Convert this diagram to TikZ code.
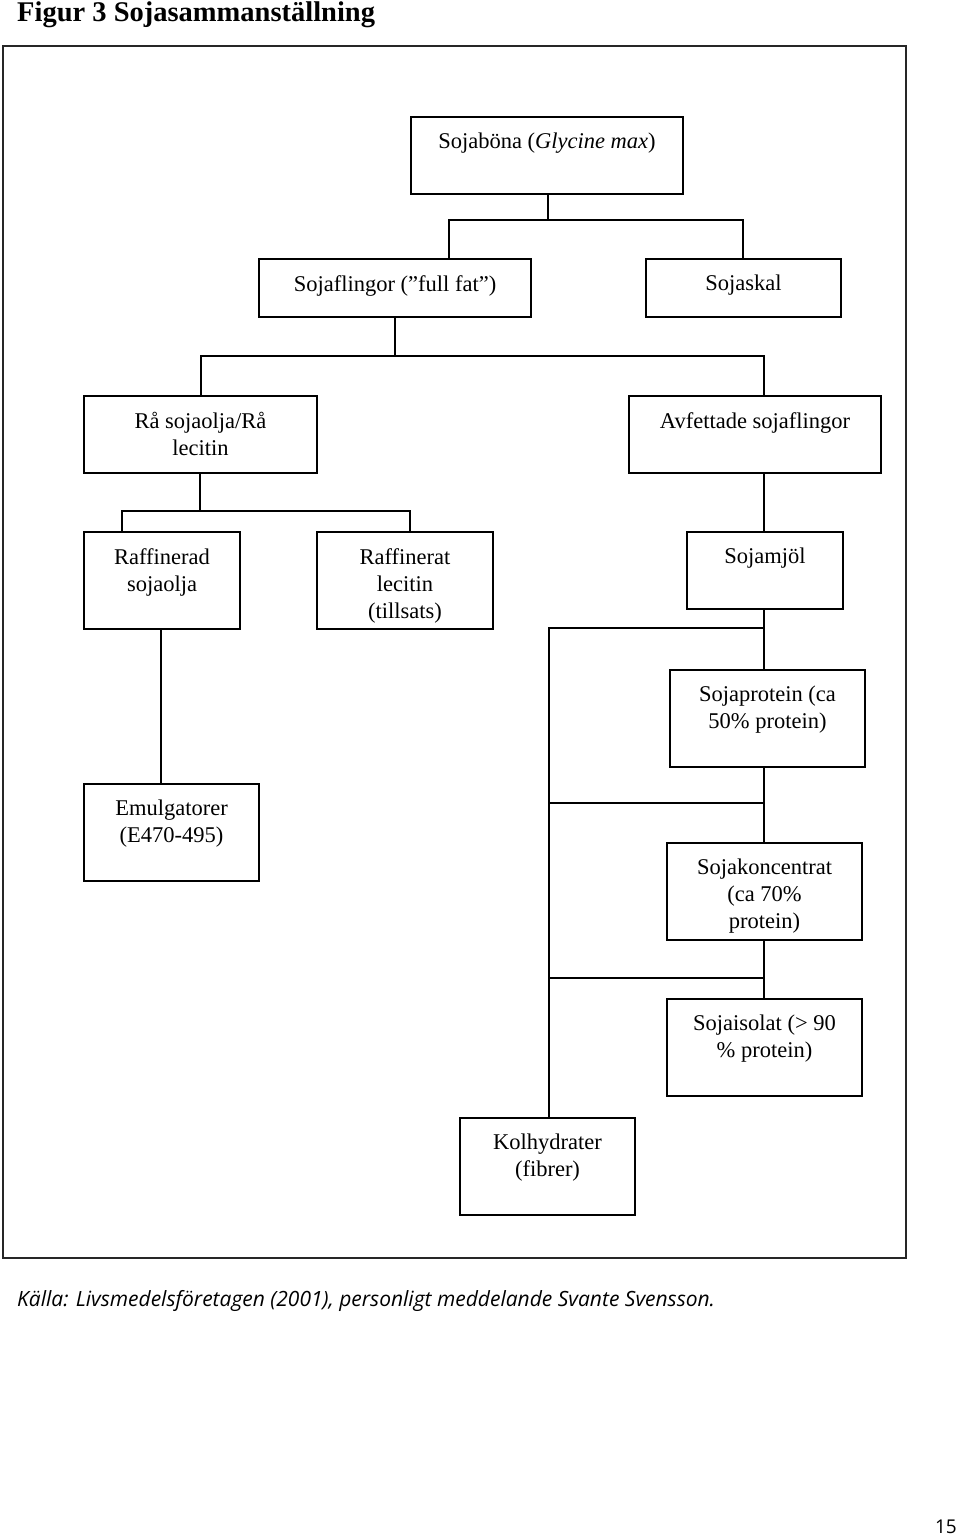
\documentclass[tikz,border=0pt]{standalone}
\usepackage{fontspec}
\setmainfont{Liberation Serif}
\newfontfamily\capfont{Open Sans}
\tikzset{
  bx/.style={draw=black, line width=2pt, inner sep=0pt, anchor=north west},
  txt/.style={font=\fontsize{22.5}{27}\selectfont, align=center, inner sep=0pt, anchor=north},
  conn/.style={line width=2pt, line cap=rect},
  frame/.style={draw=black!85, line width=1.6pt}
}
\newcommand\mybox[6]{%
  \node[bx, minimum width={(#4-#2)*1pt}, minimum height={(#5-#3)*1pt}] (#1) at (#2,#3) {};
  \node[txt] (#1t) at ([yshift=-17pt]#1.north) {#6};}
\begin{document}
\begin{tikzpicture}[x=1pt,y=-1pt]
\useasboundingbox (0,0) rectangle (960,1536);
\node[anchor=base west, inner sep=0pt, font=\fontsize{28.5}{32}\selectfont\bfseries] (title) at (17,22) {Figur 3 Sojasammanställning};
\node[frame, anchor=north west, minimum width=903pt, minimum height=1212pt, inner sep=0pt] (frm) at (2,45) {};

\mybox{sb}{410}{116}{682}{193}{Sojaböna (\textit{Glycine max})}
\mybox{sf}{258}{258}{530}{316}{Sojaflingor (”full fat”)}
\mybox{sk}{645}{258}{840}{316}{Sojaskal}
\mybox{ra}{83}{395}{316}{472}{Rå sojaolja/Rå\\lecitin}
\mybox{av}{628}{395}{880}{472}{Avfettade sojaflingor}
\mybox{rs}{83}{531}{239}{628}{Raffinerad\\sojaolja}
\mybox{rl}{316}{531}{492}{628}{Raffinerat\\lecitin\\(tillsats)}
\mybox{sm}{686}{531}{842}{608}{Sojamjöl}
\mybox{sp}{669}{669}{864}{766}{Sojaprotein (ca\\50\% protein)}
\mybox{em}{83}{783}{258}{880}{Emulgatorer\\(E470-495)}
\mybox{kc}{666}{842}{861}{939}{Sojakoncentrat\\(ca 70\%\\protein)}
\mybox{si}{666}{998}{861}{1095}{Sojaisolat (> 90\\\% protein)}
\mybox{kh}{459}{1117}{634}{1214}{Kolhydrater\\(fibrer)}

% junctions
\coordinate (j1) at (548,220); \coordinate (j1l) at (449,220); \coordinate (j1r) at (743,220);
\coordinate (j2) at (395,356); \coordinate (j2l) at (201,356); \coordinate (j2r) at (764,356);
\coordinate (j3) at (200,511); \coordinate (j3l) at (122,511); \coordinate (j3r) at (410,511);
\coordinate (t1) at (549,628); \coordinate (t2) at (549,803); \coordinate (t3) at (549,978);
\coordinate (r1) at (764,628); \coordinate (r2) at (764,803); \coordinate (r3) at (764,978);
\coordinate (c1) at (161,700);

\draw[conn] (j1 |- sb.south) -- (j1);
\draw[conn] (j1l |- sf.north) -- (j1l) -- (j1r) -- (j1r |- sk.north);
\draw[conn] (j2 |- sf.south) -- (j2);
\draw[conn] (j2l |- ra.north) -- (j2l) -- (j2r) -- (j2r |- av.north);
\draw[conn] (j3 |- ra.south) -- (j3);
\draw[conn] (j3l |- rs.north) -- (j3l) -- (j3r) -- (j3r |- rl.north);
\draw[conn] (av.south -| r1) -- (sm.north -| r1);
\draw[conn] (sm.south -| r1) -- (sp.north -| r1);
\draw[conn] (sp.south -| r1) -- (kc.north -| r1);
\draw[conn] (kc.south -| r1) -- (si.north -| r1);
\draw[conn] (r1) -- (t1) -- (t1 |- kh.north);
\draw[conn] (r2) -- (t2);
\draw[conn] (r3) -- (t3);
\draw[conn] (rs.south -| c1) -- (em.north -| c1);

\node[anchor=west, inner sep=0pt, font=\capfont\itshape\fontsize{21}{26}\selectfont] (cap) at (17,1301) {Källa: Livsmedelsföretagen (2001), personligt meddelande Svante Svensson.};
\node[anchor=east, inner sep=0pt, font=\capfont\fontsize{19}{24}\selectfont] (pg) at (957,1527) {15};
\end{tikzpicture}
\end{document}
